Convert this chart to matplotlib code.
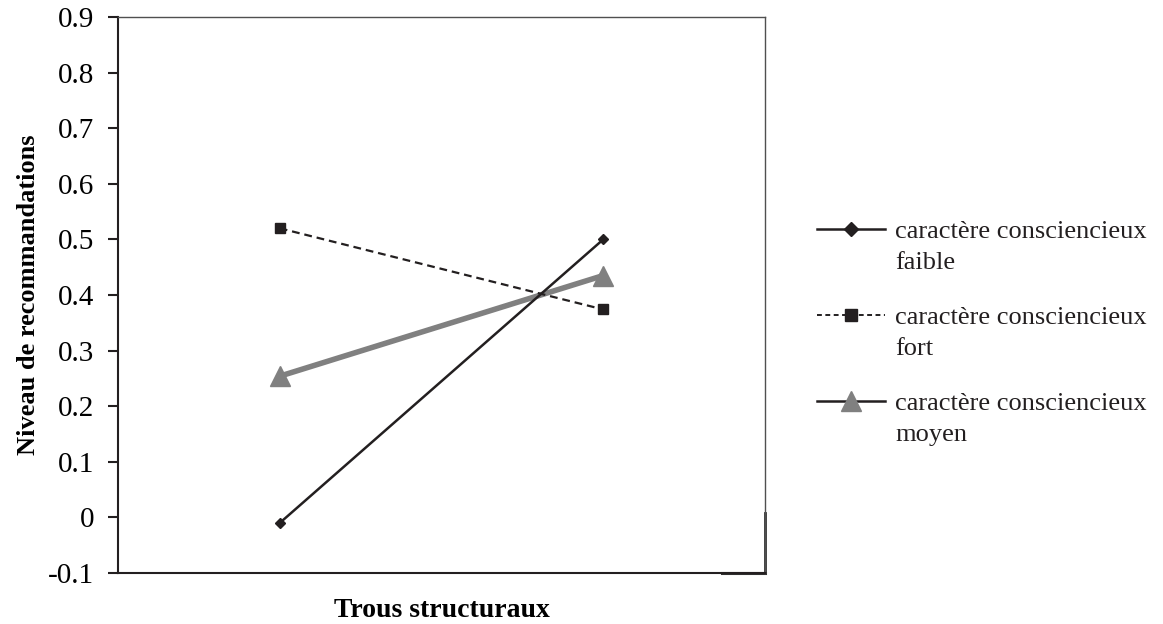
import matplotlib.pyplot as plt
from matplotlib.lines import Line2D

plt.rcParams['font.family'] = ['Liberation Serif', 'DejaVu Serif']

# donnees
categories = [1, 2]
faible = [-0.01, 0.50]
fort = [0.52, 0.374]
moyen = [0.254, 0.435]
yticks = [-0.1, 0, 0.1, 0.2, 0.3, 0.4, 0.5, 0.6, 0.7, 0.8, 0.9]
ytick_labels = ['-0.1', '0', '0.1', '0.2', '0.3', '0.4', '0.5', '0.6', '0.7', '0.8', '0.9']
noms = ['caractère consciencieux\nfaible', 'caractère consciencieux\nfort',
        'caractère consciencieux\nmoyen']

W, H = 1163, 624
fig = plt.figure(figsize=(W / 100, H / 100), dpi=100)
ax = fig.add_axes([118 / W, 1 - 573 / H, (765 - 118) / W, (573 - 17) / H])

ax.plot(categories, faible, color='#231f20', lw=1.8, marker='D', ms=5.5, zorder=3)
ax.plot(categories, fort, color='#231f20', lw=1.6, ls=(0, (3.5, 2.2)), marker='s', ms=7, zorder=3)
ax.plot(categories, moyen, color='#808080', lw=4, marker='^', ms=15, zorder=2)

ax.set_xlim(0.5, 2.5)
ax.set_ylim(-0.1, 0.9)
ax.set_yticks(yticks)
ax.set_yticklabels(ytick_labels)
ax.set_xticks([])
ax.tick_params(axis='y', direction='out', length=7, width=1.5, labelsize=21, pad=10, color='#231f20')
for s in ['left', 'bottom']:
    ax.spines[s].set_linewidth(1.5)
    ax.spines[s].set_color('#231f20')
for s in ['top', 'right']:
    ax.spines[s].set_linewidth(1.0)
    ax.spines[s].set_color('#505050')
# petit trait plus epais en bas a droite, comme sur l'original
ax.plot([1.0, 1.0], [0.0, 0.108], transform=ax.transAxes, color='#303030', lw=2, clip_on=False)
ax.plot([0.934, 1.0], [0.0, 0.0], transform=ax.transAxes, color='#303030', lw=2.2, clip_on=False)

ax.set_xlabel('Trous structuraux', fontsize=20, fontweight='bold', labelpad=18)
ax.set_ylabel('Niveau de recommandations', fontsize=19, fontweight='bold', labelpad=6)

# legende faite a la main (cle alignee sur la premiere ligne du texte)
styles = [
    dict(color='#231f20', lw=1.8, marker='D', ms=7),
    dict(color='#231f20', lw=1.4, ls=(0, (2.5, 1.8)), marker='s', mfc='#231f20', ms=9),
    dict(color='#231f20', lw=1.8, marker='^', mfc='#808080', mec='#808080', ms=15),
]
for i, (nom, st) in enumerate(zip(noms, styles)):
    yc = 1 - (229 + 86 * i) / H
    fig.add_artist(Line2D([817 / W, 885 / W], [yc, yc], transform=fig.transFigure, markevery=[], **st))
    fig.add_artist(Line2D([851 / W], [yc], transform=fig.transFigure, ls='none',
                          **{k: v for k, v in st.items() if k not in ('ls', 'lw')}))
    fig.text(895 / W, 1 - (221 + 86 * i) / H, nom, fontsize=19, va='top', ha='left',
             linespacing=1.55, color='#231f20')

fig.savefig('out.png', dpi=100)
